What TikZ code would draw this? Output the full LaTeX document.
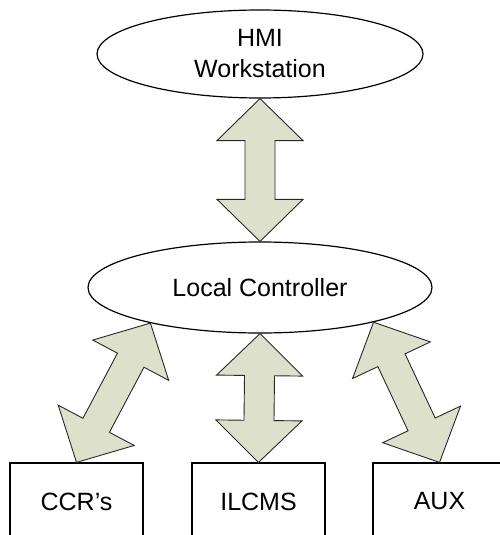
\documentclass[tikz,border=0pt]{standalone}
\usepackage{fontspec}
\setmainfont{Liberation Sans}
\usetikzlibrary{shapes.geometric,calc}

\definecolor{arrowfill}{RGB}{221,224,203}
\definecolor{arrowline}{RGB}{40,40,40}

% geometry of the double-headed block arrows
\def\bahl{42pt}  % head length
\def\bahw{43pt}  % head half width
\def\basw{15pt}  % shaft half width

\newcommand\biarrow[2]{%
  \filldraw[blockarrow] (#1)
    -- ($(#1)!\bahl!(#2)!\bahw!90:(#2)$)
    -- ($(#1)!\bahl!(#2)!\basw!90:(#2)$)
    -- ($(#2)!\bahl!(#1)!\basw!-90:(#1)$)
    -- ($(#2)!\bahl!(#1)!\bahw!-90:(#1)$)
    -- (#2)
    -- ($(#2)!\bahl!(#1)!\bahw!90:(#1)$)
    -- ($(#2)!\bahl!(#1)!\basw!90:(#1)$)
    -- ($(#1)!\bahl!(#2)!\basw!-90:(#2)$)
    -- ($(#1)!\bahl!(#2)!\bahw!-90:(#2)$)
    -- cycle;}

\tikzset{
  oval/.style={ellipse, draw=black, line width=1.2pt, fill=white, inner sep=0pt,
    align=center, font=\fontsize{25}{31}\selectfont},
  unitbox/.style={rectangle, draw=black, line width=1.2pt, fill=white,
    minimum width=133pt, minimum height=77pt, inner sep=0pt,
    font=\fontsize{25}{31}\selectfont},
  blockarrow/.style={fill=arrowfill, draw=arrowline, line width=0.9pt, line join=miter}
}

\begin{document}
\begin{tikzpicture}[x=1pt, y=1pt]
  \clip (0,0) rectangle (500,-535);
  \fill[white] (0,0) rectangle (500,-535);

  \node[oval, minimum width=326pt, minimum height=88pt] (hmi) at (260,-54) {HMI\\Workstation};
  \node[oval, minimum width=344pt, minimum height=91pt] (lc) at (260,-287.5) {Local Controller};

  \node[unitbox] (ccr)   at (76.5,-501.5)  {CCR’s};
  \node[unitbox] (ilcms) at (258.5,-501.5) {ILCMS};
  \node[unitbox] (aux)   at (439.5,-501.5) {AUX};

  \biarrow{hmi.south}{lc.north}
  \biarrow{lc.198.7}{ccr.north}
  \biarrow{lc.south}{ilcms.north}
  \biarrow{lc.343}{aux.north}
\end{tikzpicture}
\end{document}
